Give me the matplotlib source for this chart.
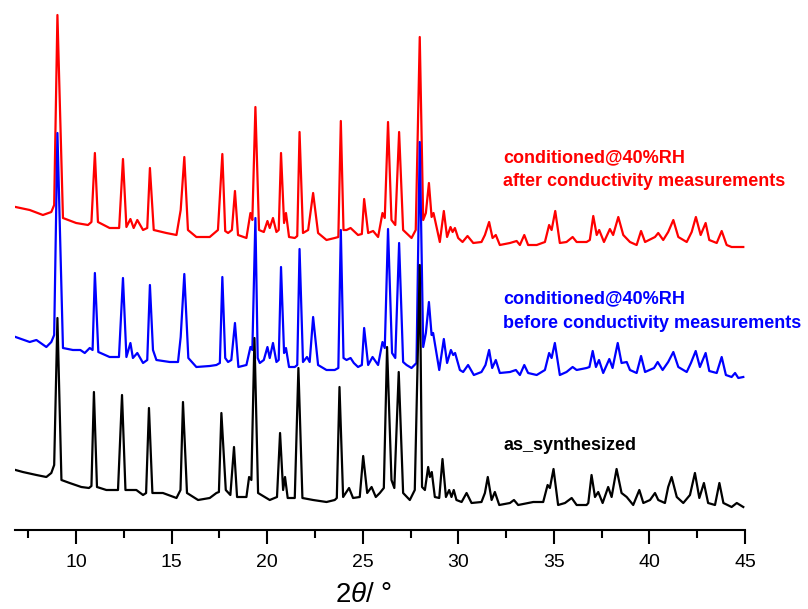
import matplotlib
matplotlib.use("Agg")
import matplotlib.pyplot as plt
from matplotlib.ticker import MultipleLocator

plt.rcParams["font.family"] = ["Liberation Sans", "DejaVu Sans"]
plt.rcParams["mathtext.fontset"] = "custom"
plt.rcParams["mathtext.rm"] = "Liberation Sans"
plt.rcParams["mathtext.it"] = "Liberation Sans:italic"

# XRD patterns (2theta in degrees, intensity in a.u.)
black_2theta = [6.83, 7.21, 7.92, 8.44, 8.70, 8.85, 9.02, 9.23, 9.66, 10.27, 10.67, 10.80, 10.93, 11.09,
                11.58, 12.19, 12.40, 12.58, 13.15, 13.50, 13.66, 13.81, 13.99, 14.54, 15.25, 15.46, 15.59,
                15.80, 16.38, 16.99, 17.34, 17.47, 17.60, 17.83, 18.07, 18.26, 18.42, 18.91, 19.05, 19.17,
                19.33, 19.52, 20.13, 20.51, 20.67, 20.83, 20.93, 21.07, 21.44, 21.63, 21.84, 22.40,
                23.10, 23.53, 23.64, 23.78, 23.97, 24.28, 24.49, 24.84, 25.02, 25.23, 25.46, 25.68, 25.89,
                26.10, 26.27, 26.50, 26.65, 26.88, 27.11, 27.46, 27.72, 27.98, 28.10, 28.25, 28.42,
                28.51, 28.61, 28.77, 29.00, 29.17, 29.35, 29.52, 29.64, 29.76, 29.90, 30.17, 30.43,
                30.69, 31.21, 31.39, 31.54, 31.74, 31.91, 32.14, 32.70, 32.91, 33.13, 33.92, 34.44,
                34.67, 34.79, 34.98, 35.22, 35.58, 35.93, 36.19, 36.71, 36.80, 36.97, 37.15, 37.32,
                37.55, 37.84, 38.02, 38.28, 38.54, 38.81, 39.15, 39.47, 39.68, 40.03, 40.29, 40.46,
                40.81, 40.98, 41.16, 41.43, 41.77, 42.12, 42.38, 42.61, 42.85, 43.07, 43.43, 43.66,
                43.87, 44.30, 44.57, 44.91]
black_counts = [40, 38, 35, 33, 37, 45, 192, 30, 27, 23, 22, 24, 118, 23,
                20, 20, 115, 20, 20, 15, 17, 102, 17, 17, 12, 20, 108,
                17, 10, 12, 17, 18, 97, 20, 15, 63, 13, 13, 33, 30,
                172, 17, 10, 13, 77, 20, 33, 12, 12, 142, 12, 10,
                8, 10, 12, 123, 13, 22, 12, 13, 54, 17, 23, 13, 17,
                22, 163, 30, 22, 138, 17, 10, 20, 245, 23, 20, 43,
                33, 38, 13, 12, 51, 13, 20, 13, 20, 10, 8, 17,
                7, 8, 17, 33, 10, 18, 5, 7, 10, 5, 8, 8,
                25, 22, 41, 5, 7, 12, 5, 5, 7, 35, 13, 18,
                7, 23, 13, 41, 17, 13, 5, 20, 7, 10, 17, 10,
                7, 23, 33, 13, 7, 15, 37, 12, 27, 7, 5, 27,
                7, 3, 7, 3]

blue_2theta = [6.83, 7.57, 7.92, 8.44, 8.70, 8.85, 9.02, 9.31, 9.83, 10.22, 10.45, 10.71, 10.86, 10.98,
               11.16, 11.75, 12.24, 12.45, 12.63, 12.84, 12.97, 13.20, 13.50, 13.72, 13.86, 14.02, 14.20,
               14.90, 15.33, 15.47, 15.66, 15.87, 16.29, 16.99, 17.34, 17.52, 17.65, 17.80, 17.95, 18.12,
               18.31, 18.49, 18.91, 19.12, 19.22, 19.38, 19.50, 19.61, 19.82, 20.01, 20.13, 20.30, 20.48,
               20.60, 20.72, 20.88, 20.98, 21.14, 21.44, 21.57, 21.69, 21.87, 22.08, 22.22, 22.40, 22.66,
               23.10, 23.53, 23.72, 23.85, 23.99, 24.15, 24.36, 24.53, 24.75, 24.95, 25.07, 25.28, 25.51,
               25.80, 26.03, 26.15, 26.32, 26.53, 26.70, 26.90, 27.11, 27.29, 27.55, 27.81, 27.98, 28.16,
               28.30, 28.46, 28.60, 28.68, 29.00, 29.24, 29.41, 29.61, 29.73, 29.83, 30.08, 30.25, 30.51,
               30.81, 31.21, 31.42, 31.61, 31.77, 31.96, 32.17, 32.70, 33.01, 33.22, 33.45, 33.65, 34.10,
               34.53, 34.75, 34.88, 35.05, 35.31, 35.66, 35.98, 36.19, 36.71, 36.86, 37.03, 37.20, 37.36,
               37.58, 37.90, 38.07, 38.34, 38.54, 38.81, 38.98, 39.33, 39.56, 39.77, 40.24, 40.43,
               40.69, 40.98, 41.25, 41.51, 41.95, 42.17, 42.42, 42.64, 42.94, 43.13, 43.52, 43.78,
               44.00, 44.30, 44.48, 44.65, 44.91]
blue_counts = [43, 38, 40, 33, 38, 45, 247, 32, 30, 30, 27, 32, 30, 107,
               28, 23, 23, 102, 23, 37, 22, 27, 17, 20, 95, 30, 20,
               18, 18, 43, 106, 22, 13, 14, 15, 17, 103, 22, 18, 20,
               57, 13, 15, 33, 30, 162, 22, 17, 20, 33, 22, 37, 18,
               20, 113, 27, 32, 13, 13, 15, 131, 18, 23, 18, 63, 15,
               10, 10, 12, 150, 22, 20, 22, 17, 13, 15, 52, 15, 23,
               15, 38, 32, 151, 27, 22, 137, 18, 15, 12, 17, 238, 33,
               47, 78, 45, 47, 10, 41, 17, 30, 25, 27, 10, 8, 15,
               5, 8, 15, 30, 12, 20, 7, 8, 10, 5, 15, 7, 5,
               10, 27, 22, 37, 5, 8, 13, 10, 12, 13, 29, 13, 20,
               7, 21, 12, 37, 17, 18, 10, 7, 24, 8, 12, 18,
               10, 18, 28, 13, 8, 17, 29, 13, 27, 9, 7, 23,
               5, 3, 7, 2, 3]

red_2theta = [6.83, 7.57, 8.26, 8.70, 8.85, 9.02, 9.31, 10.00, 10.62, 10.80, 10.98, 11.14, 11.75,
              12.25, 12.45, 12.63, 12.84, 13.01, 13.20, 13.50, 13.72, 13.86, 14.06, 14.72, 15.25, 15.47,
              15.66, 15.85, 16.29, 16.99, 17.42, 17.65, 17.80, 17.95, 18.15, 18.31, 18.47, 18.91, 19.12,
              19.22, 19.38, 19.57, 19.82, 20.01, 20.13, 20.30, 20.48, 20.60, 20.72, 20.88, 20.98, 21.14,
              21.44, 21.57, 21.69, 21.87, 22.14, 22.40, 22.66, 23.10, 23.53, 23.72, 23.85, 23.99, 24.15,
              24.36, 24.75, 24.95, 25.07, 25.28, 25.54, 25.80, 26.03, 26.15, 26.32, 26.50, 26.70, 26.90,
              27.11, 27.55, 27.77, 27.98, 28.16, 28.30, 28.46, 28.60, 28.70, 29.03, 29.24, 29.41, 29.59,
              29.70, 29.82, 29.99, 30.22, 30.48, 30.78, 31.21, 31.39, 31.61, 31.79, 31.96, 32.17, 32.70,
              33.05, 33.22, 33.45, 33.65, 34.10, 34.53, 34.75, 34.88, 35.07, 35.31, 35.66, 35.98,
              36.19, 36.71, 36.88, 37.06, 37.24, 37.37, 37.62, 37.93, 38.10, 38.37, 38.63, 38.98,
              39.33, 39.56, 39.77, 40.29, 40.46, 40.72, 40.98, 41.25, 41.51, 41.95, 42.21, 42.43,
              42.68, 42.94, 43.13, 43.52, 43.78, 44.04, 44.30, 44.57, 44.91]
red_counts = [43, 40, 35, 38, 45, 235, 32, 27, 25, 28, 97, 28, 22,
              22, 91, 23, 31, 22, 30, 20, 22, 82, 20, 17, 15, 40,
              93, 20, 13, 13, 20, 96, 19, 17, 20, 59, 15, 12, 37,
              30, 143, 20, 18, 29, 22, 32, 18, 20, 97, 27, 37, 13,
              12, 14, 118, 17, 20, 57, 17, 10, 12, 13, 129, 20, 20,
              22, 15, 16, 51, 17, 19, 13, 37, 32, 128, 30, 25, 118,
              20, 12, 20, 213, 30, 37, 67, 33, 37, 8, 39, 13, 23,
              18, 22, 12, 8, 14, 7, 8, 15, 28, 12, 15, 5, 7,
              9, 5, 15, 5, 5, 8, 25, 20, 39, 7, 8, 13,
              8, 8, 10, 34, 15, 20, 8, 21, 15, 33, 15, 8,
              5, 19, 8, 13, 17, 10, 18, 30, 13, 8, 18, 33,
              15, 27, 10, 7, 19, 5, 3, 3, 3]

labels_black = ["as_synthesized"]
labels_blue = ["conditioned@40%RH", "before conductivity measurements"]
labels_red = ["conditioned@40%RH", "after conductivity measurements"]

# vertical stacking of the patterns
offset_black = 20
offset_blue = 150
offset_red = 280

fig = plt.figure(figsize=(8.08, 6.09), dpi=100)
ax = fig.add_axes([15 / 808, 79 / 609, 730 / 808, 525 / 609])

ax.plot(red_2theta, [c + offset_red for c in red_counts], color="#ff0000", lw=1.6)
ax.plot(blue_2theta, [c + offset_blue for c in blue_counts], color="#0000ff", lw=1.6)
ax.plot(black_2theta, [c + offset_black for c in black_counts], color="black", lw=1.6)

# sample labels
lab = dict(fontsize=13, fontweight="bold", va="center")
ax.text(32.34, 372, labels_red[0], color="#ff0000", **lab)
ax.text(32.34, 349, labels_red[1], color="#ff0000", **lab)
ax.text(32.34, 231, labels_blue[0], color="#0000ff", **lab)
ax.text(32.34, 207, labels_blue[1], color="#0000ff", **lab)
ax.text(32.34, 84, labels_black[0], color="black", **lab)

ax.set_xlim(6.8, 45)
ax.set_ylim(0, 525)
ax.xaxis.set_major_locator(MultipleLocator(5))
ax.xaxis.set_minor_locator(MultipleLocator(2.5))
ax.tick_params(axis="x", which="major", direction="out", length=10, width=1.5, labelsize=14, pad=7)
ax.tick_params(axis="x", which="minor", direction="out", length=6, width=1.5)
ax.set_yticks([])
for side in ["top", "left", "right"]:
    ax.spines[side].set_visible(False)
ax.spines["bottom"].set_linewidth(1.5)

ax.set_xlabel(r"2$\theta$/ °", fontsize=20, va="center")
ax.xaxis.set_label_coords((364 - 15) / 730, (530 - 595) / 525)

fig.savefig("out.png", dpi=100)
